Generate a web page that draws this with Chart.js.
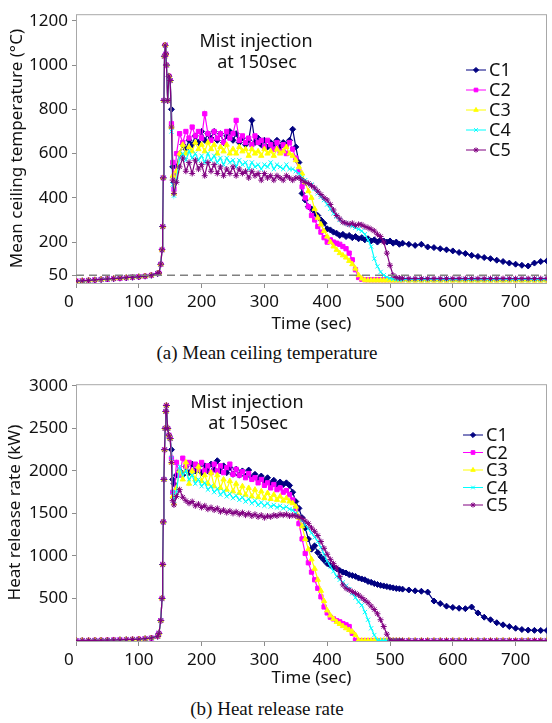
<!DOCTYPE html>
<html>
<head>
<meta charset="utf-8">
<script src="https://cdn.jsdelivr.net/npm/chart.js@4.4.0/dist/chart.umd.min.js"></script>
<style>
body { margin: 0; background: #fff; width: 552px; height: 723px; overflow: hidden; position: relative; }
canvas { position: absolute; left: 0; }
#tempChart { top: 0; }
#hrrChart { top: 370px; }
.cap { position: absolute; left: 0; width: 534px; text-align: center; font-family: "Liberation Serif", serif; font-size: 19px; line-height: 22px; color: #111; }
</style>
</head>
<body>
<canvas id="tempChart" width="552" height="336"></canvas>
<div class="cap" style="top:342px">(a) Mean ceiling temperature</div>
<canvas id="hrrChart" width="552" height="320"></canvas>
<div class="cap" style="top:698px">(b) Heat release rate</div>
<script>
// time stamps (sec) shared by every series
const times = [0,10,20,30,40,50,60,70,80,90,100,110,120,130,
  132,135,137,138,139,140,141,142,143,144,146,148,150,
  152,154,156,
  160,165,170,175,180,185,190,195,200,205,210,215,220,225,230,235,240,245,250,255,
  260,265,270,275,280,285,290,295,300,305,310,315,320,325,330,335,340,345,350,
  355,360,365,370,375,380,385,390,395,400,405,410,415,420,425,430,435,440,445,450,
  455,460,465,470,475,480,485,490,495,500,505,510,515,520,
  530,540,550,560,570,580,590,600,610,620,630,640,650,660,670,680,690,700,710,720,730,740,750]

const xTicks = [0,100,200,300,400,500,600,700]
const seriesNames = ['C1','C2','C3','C4','C5']
const seriesColors = ['#000080','#FF00FF','#FFFF00','#00FFFF','#800080']
const seriesMarkers = ['rectRot','rect','triangle','crossRot','star']

// (a) mean ceiling temperature, degC
const tempTicks = [50,200,400,600,800,1000,1200]
const tempLimit = 50
// before and during the spike all five curves lie on top of each other
const tempCommon = [24,25,27,29,31,33,35,37,39,41,43,46,50,58,
  60,100,165,270,490,840,1040,1090,1050,1000,840,950,930]
const tempC1 = [800,540,470,
  540,600,640,620,660,640,680,650,700,660,690,670,700,660,690,650,680,700,660,
  690,650,670,640,660,750,650,670,640,660,630,650,640,660,630,650,640,660,710,630,
  560,420,390,360,350,330,320,300,285,260,255,245,240,230,235,225,230,220,225,215,
  220,210,215,205,210,200,210,205,200,205,195,200,190,195,
  190,185,190,178,175,170,165,160,153,148,140,135,130,125,118,112,105,100,95,92,105,112,115]
const tempC2 = [735,560,440,
  600,690,650,700,670,720,680,700,670,780,690,660,700,670,690,650,700,670,690,
  750,660,680,650,670,640,680,650,660,630,660,640,620,650,610,640,600,650,620,580,
  520,450,400,360,320,300,270,245,220,200,210,200,195,190,180,170,150,120,75,40,
  32,30,30,30,30,30,30,30,30,30,30,30,30,30,
  30,30,30,30,30,30,30,30,30,30,30,30,30,30,30,30,30,30,30,30,30,30,30]
const tempC3 = [720,500,420,
  520,600,640,600,630,610,650,620,640,610,650,620,640,600,630,610,640,600,620,
  600,630,610,620,590,620,600,610,590,620,600,610,590,620,600,610,630,600,590,570,
  540,510,470,430,400,350,310,280,250,225,200,180,165,150,140,130,115,100,80,50,
  35,28,27,27,27,27,27,27,27,27,27,27,27,27,
  26,26,26,26,26,26,26,26,26,26,26,26,26,26,26,26,26,26,26,26,26,26,26]
const tempC4 = [700,460,410,
  480,580,600,570,610,580,600,570,590,560,600,570,590,560,580,550,580,560,570,
  540,570,550,560,530,560,540,550,530,550,540,560,530,550,540,530,550,530,530,520,
  510,490,480,465,460,440,420,405,390,370,350,330,315,300,290,285,278,272,265,258,
  250,235,210,180,125,90,65,50,42,36,33,32,31,31,
  31,31,31,31,31,31,31,31,31,31,31,31,31,31,31,31,31,31,31,31,31,31,31]
const tempC5 = [720,480,420,
  470,540,580,520,560,510,570,530,550,500,560,520,550,510,540,500,530,510,540,
  500,530,510,520,490,520,500,510,480,510,490,500,480,500,490,480,500,490,480,490,
  490,480,470,465,455,445,430,415,400,390,370,345,320,305,290,285,280,285,275,280,
  278,270,265,258,250,235,225,200,150,95,50,40,37,36,
  35,35,35,35,35,35,35,35,35,35,35,35,35,35,35,35,35,35,35,35,35,35,35]

// (b) heat release rate, kW
const hrrTicks = [500,1000,1500,2000,2500,3000]
const hrrCommon = [5,6,7,8,9,10,12,14,16,19,22,27,35,55,
  90,240,500,900,1400,1900,2250,2500,2700,2770,2500,2420,2380]
const hrrC1 = [2250,1900,1850,
  1950,2000,1950,2050,1980,2080,2000,2050,1980,2060,2000,2080,2020,2120,2000,2060,1980,2040,1960,
  2020,1950,2000,1940,2010,1920,1960,1900,1940,1880,1920,1850,1890,1840,1870,1840,1860,1830,1750,1640,
  1560,1450,1330,1200,1080,1120,1040,990,950,910,890,870,850,830,810,800,780,770,760,740,
  730,720,700,690,675,665,655,648,640,632,625,618,614,610,
  600,590,585,575,470,440,410,395,385,380,400,330,280,250,215,190,170,150,135,128,125,124,124]
const hrrC2 = [2150,1750,1700,
  2100,1950,2150,2050,2100,2000,2080,2020,2100,2000,2060,1980,2080,2000,2060,1980,2040,2080,1960,
  2020,1950,1990,1920,1970,1900,1920,1860,1900,1830,1860,1800,1840,1780,1800,1750,1770,1720,1660,1560,
  1380,1200,1030,920,810,720,620,520,400,330,280,260,240,225,205,190,170,90,8,5,
  5,5,5,5,5,5,5,5,5,5,5,5,5,5,
  5,5,5,5,5,5,5,5,5,5,5,5,5,5,5,5,5,5,5,5,5,5,5]
const hrrC3 = [2100,1700,1620,
  1800,2000,1900,2100,1850,2000,1900,2050,1880,1950,1850,1980,1820,1950,1800,1900,1780,1880,1760,
  1850,1740,1820,1720,1800,1700,1780,1690,1760,1680,1740,1670,1720,1660,1700,1650,1680,1640,1620,1580,
  1450,1350,1200,1080,960,850,720,590,470,360,300,260,225,200,175,150,130,110,70,10,
  5,5,5,5,5,5,5,5,5,5,5,5,5,5,
  5,5,5,5,5,5,5,5,5,5,5,5,5,5,5,5,5,5,5,5,5,5,5]
const hrrC4 = [2150,1750,1650,
  1750,2050,1950,2000,1900,1950,1850,1900,1820,1860,1780,1820,1750,1790,1720,1760,1700,1730,1680,
  1710,1660,1690,1640,1670,1620,1650,1600,1630,1590,1620,1580,1600,1570,1590,1560,1580,1550,1540,1500,
  1460,1420,1370,1320,1270,1220,1170,1100,1020,940,880,820,760,720,690,650,610,560,510,460,
  420,340,250,150,70,10,5,5,5,5,5,5,5,5,
  5,5,5,5,5,5,5,5,5,5,5,5,5,5,5,5,5,5,5,5,5,5,5]
const hrrC5 = [2100,1650,1600,
  1700,1780,1690,1650,1620,1640,1590,1610,1570,1590,1550,1570,1540,1560,1520,1540,1510,1530,1500,
  1520,1490,1510,1480,1500,1470,1490,1460,1480,1450,1470,1460,1480,1470,1490,1480,1490,1470,1480,1470,
  1460,1440,1410,1380,1330,1290,1240,1170,1090,1020,960,910,860,760,660,620,600,580,560,540,
  510,480,450,410,370,320,250,170,80,10,5,5,5,5,
  5,5,5,5,5,5,5,5,5,5,5,5,5,5,5,5,5,5,5,5,5,5,5]

const FONT = 'Noto Sans'
const tickFont = { family: FONT, size: 17 }
const titleFont = { family: FONT, size: 17 }

function buildDatasets(common, list) {
    return list.map((vals, i) => ({
        label: seriesNames[i],
        data: common.concat(vals).map((v, k) => ({ x: times[k], y: v })),
        borderColor: seriesColors[i],
        backgroundColor: seriesColors[i],
        pointStyle: seriesMarkers[i],
        pointRadius: 3,
        pointBorderWidth: 1,
        borderWidth: 1.2,
        order: 5 - i   // last series on top, like the original
    }))
}

function makeChart(id, cfg) {
    // plot frame
    const frame = {
        id: 'frame',
        beforeDatasetsDraw (chart) {
            const a = chart.chartArea, c = chart.ctx
            c.save()
            c.strokeStyle = '#a8a8a8'
            c.lineWidth = 1
            c.strokeRect(a.left + 0.5, a.top + 0.5, a.right - a.left - 1, a.bottom - a.top)
            c.restore()
        }
    }
    // legend: short line with the marker, then the name
    const legendBox = {
        id: 'legendBox',
        afterDraw (chart) {
            const c = chart.ctx, L = cfg.legend
            c.save()
            seriesNames.forEach((name, i) => {
                const y = L.y + i * L.dy
                c.strokeStyle = seriesColors[i]
                c.fillStyle = seriesColors[i]
                c.lineWidth = 1
                c.beginPath()
                c.moveTo(L.x, y)
                c.lineTo(L.x + 20, y)
                c.stroke()
                Chart.helpers.drawPoint(c, { pointStyle: seriesMarkers[i], radius: 2.6, rotation: 0, borderWidth: 1 }, L.x + 10, y)
                c.fillStyle = '#111'
                c.font = '18px "' + FONT + '"'
                c.textBaseline = 'middle'
                c.textAlign = 'left'
                c.fillText(name, L.x + 23, y + 1)
            })
            c.restore()
        }
    }
    // "Mist injection at 150sec" note
    const note = {
        id: 'note',
        afterDraw (chart) {
            const c = chart.ctx
            c.save()
            c.fillStyle = '#111'
            c.font = '18px "' + FONT + '"'
            c.textAlign = 'center'
            c.textBaseline = 'middle'
            c.fillText('Mist injection', cfg.note.x, cfg.note.y)
            c.fillText('at 150sec', cfg.note.x + 1, cfg.note.y + 21)
            c.restore()
        }
    }

    const datasets = cfg.datasets
    if (cfg.limit !== undefined) {
        datasets.push({
            label: 'limit',
            data: [{ x: 0, y: cfg.limit }, { x: 750, y: cfg.limit }],
            borderColor: '#808080',
            borderDash: [8, 5],
            borderWidth: 1.3,
            pointRadius: 0,
            order: 0
        })
    }

    return new Chart(document.getElementById(id), {
        type: 'line',
        data: { datasets: datasets },
        options: {
            responsive: false,
            animation: false,
            layout: { padding: { top: cfg.padTop, right: 0, left: 0, bottom: 0 } },
            plugins: { legend: { display: false }, tooltip: { enabled: false } },
            scales: {
                x: {
                    type: 'linear', min: 0, max: 750,
                    afterBuildTicks: s => { s.ticks = xTicks.map(v => ({ value: v })) },
                    afterFit: s => { s.height = cfg.xHeight },
                    ticks: { font: tickFont, color: '#111', padding: 4, maxRotation: 0,
                             callback: v => v === 0 ? '0\u2007 ' : String(v) },
                    grid: { display: true, drawOnChartArea: false, tickLength: 5, color: '#8c8c8c' },
                    border: { display: false },
                    title: { display: true, text: 'Time (sec)', font: titleFont, color: '#111',
                             padding: { top: 0, bottom: 2 } }
                },
                y: {
                    type: 'linear', min: cfg.yMin, max: cfg.yMax,
                    afterBuildTicks: s => { s.ticks = cfg.yTicks.map(v => ({ value: v })) },
                    afterFit: s => { s.width = 76 },
                    ticks: { font: tickFont, color: '#111', padding: 4, callback: v => String(v) },
                    grid: { display: true, drawOnChartArea: false, tickLength: 4, color: '#8c8c8c' },
                    border: { display: false },
                    title: { display: true, text: cfg.yTitle, font: titleFont, color: '#111',
                             padding: { top: cfg.yTitlePad, bottom: 0 } }
                }
            }
        },
        plugins: [frame, legendBox, note]
    })
}

makeChart('tempChart', {
    datasets: buildDatasets(tempCommon, [tempC1, tempC2, tempC3, tempC4, tempC5]),
    limit: tempLimit,
    yMin: 15, yMax: 1230, yTicks: tempTicks,
    yTitle: 'Mean ceiling temperature (°C)', yTitlePad: 7,
    padTop: 9, xHeight: 53,
    legend: { x: 466, y: 70, dy: 20 },
    note: { x: 256, y: 42 }
})

makeChart('hrrChart', {
    datasets: buildDatasets(hrrCommon, [hrrC1, hrrC2, hrrC3, hrrC4, hrrC5]),
    yMin: 0, yMax: 3020, yTicks: hrrTicks,
    yTitle: 'Heat release rate (kW)', yTitlePad: 5,
    padTop: 13, xHeight: 49,
    legend: { x: 463, y: 65, dy: 17.5 },
    note: { x: 247, y: 33 }
})
</script>
</body>
</html>
